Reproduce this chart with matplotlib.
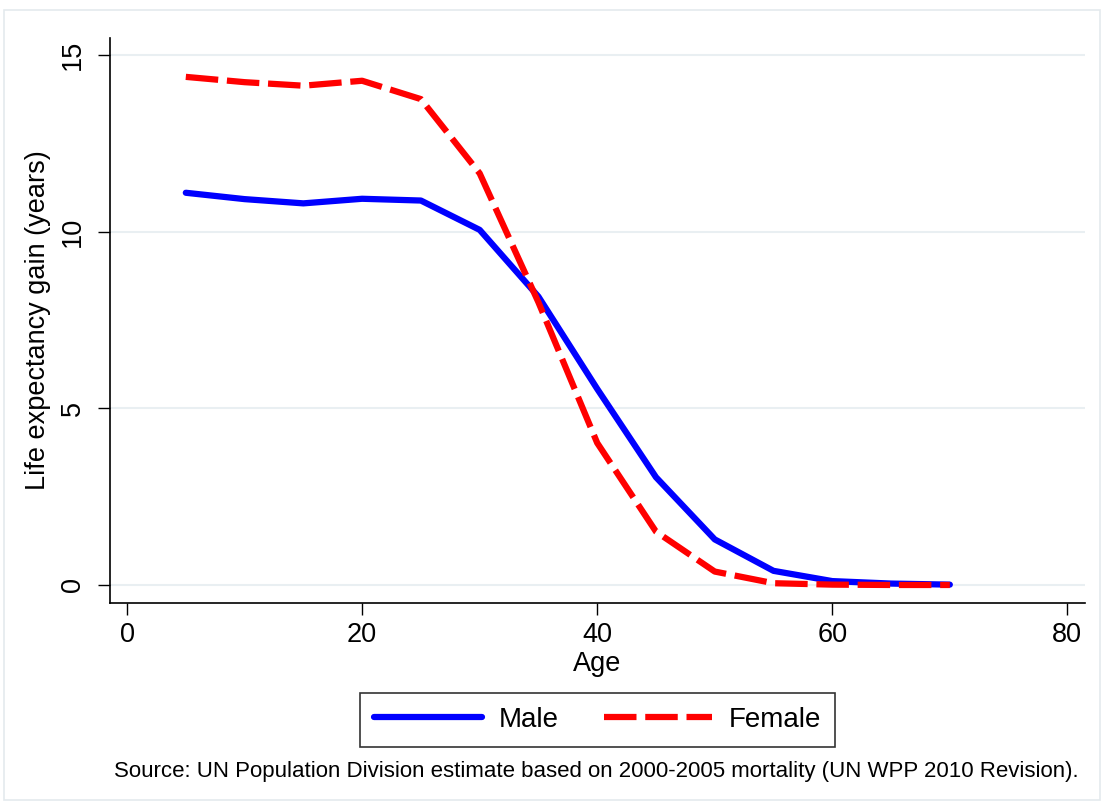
import matplotlib
matplotlib.use("Agg")
import matplotlib.pyplot as plt
from matplotlib.patches import Rectangle

plt.rcParams['font.family'] = ['Liberation Sans', 'DejaVu Sans']

# life expectancy gain by age
age = [5, 10, 15, 20, 25, 30, 35, 40, 45, 50, 55, 60, 65, 70]
male = [11.10, 10.92, 10.80, 10.93, 10.88, 10.05, 8.16, 5.55, 3.05, 1.29, 0.40, 0.11, 0.04, 0.01]
female = [14.38, 14.23, 14.13, 14.27, 13.75, 11.65, 8.00, 4.02, 1.51, 0.38, 0.05, 0.01, 0.0, 0.0]

xticks = [0, 20, 40, 60, 80]
yticks = [0, 5, 10, 15]
source = "Source: UN Population Division estimate based on 2000-2005 mortality (UN WPP 2010 Revision)."

W, H = 1106, 808
fig = plt.figure(figsize=(W / 100, H / 100), dpi=100)
fig.patch.set_facecolor('white')
fig.patches.append(Rectangle((4 / W, 8 / H), 1096 / W, 790 / H, transform=fig.transFigure,
                             fill=False, edgecolor='#e4eaed', lw=1.2))

ax = fig.add_axes([110 / W, (H - 603) / H, 975 / W, 565 / H])

for v in yticks:
    ax.axhline(v, color='#e9eff2', lw=1.5, zorder=0)

ax.plot(age, male, color='#0000ff', lw=4.5, solid_capstyle='round', label='Male')
ax.plot(age, female, color='#ff0000', lw=4.5, dashes=(5.2, 1.4), dash_capstyle='butt',
        label='Female')

ax.set_xlim(-1.45, 81.5)
ax.set_ylim(-0.51, 15.48)
ax.set_xticks(xticks)
ax.set_yticks(yticks)
ax.spines['top'].set_visible(False)
ax.spines['right'].set_visible(False)
for s in ('left', 'bottom'):
    ax.spines[s].set_linewidth(1.2)
ax.tick_params(axis='both', length=8.6, width=1.0, labelsize=19.5, direction='out')
ax.tick_params(axis='x', pad=5)
ax.tick_params(axis='y', pad=9)
for lab in ax.get_yticklabels():
    lab.set_rotation(90)
    lab.set_va('center')

ax.set_xlabel('Age', fontsize=19.5, labelpad=2)
ax.set_ylabel('Life expectancy gain (years)', fontsize=19.5, labelpad=6)

leg = fig.legend(loc='center', bbox_to_anchor=(597.5 / W, 1 - 720 / H), ncol=2,
                 fontsize=20, frameon=True, fancybox=False, handlelength=3.9,
                 handletextpad=0.6, columnspacing=1.6, borderpad=0.5)
leg.get_frame().set_edgecolor('black')
leg.get_frame().set_linewidth(1.2)

fig.text(114 / W, 1 - 771 / H, source, fontsize=16.0, ha='left', va='center')

fig.savefig('out.png', dpi=100, facecolor='white')
